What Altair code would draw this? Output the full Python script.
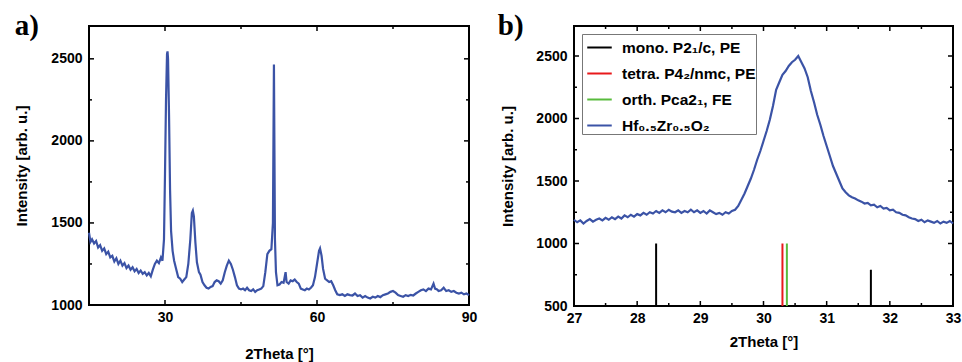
import altair as alt
import pandas as pd

# ---------------- Panel a data (2Theta, intensity) ----------------
a_x = [15.0, 15.3, 15.6, 16.0, 16.4, 16.8, 17.2, 17.6, 18.0, 18.4, 18.8, 19.2, 19.6, 20.0,
       20.4, 20.8, 21.2, 21.6, 22.0, 22.4, 22.8, 23.2, 23.6, 24.0, 24.4, 24.8, 25.2, 25.6,
       26.0, 26.4, 26.8, 27.2, 27.6, 28.0, 28.4, 28.8, 29.2, 29.5, 29.8, 30.0, 30.2, 30.4,
       30.5, 30.6, 30.8, 31.0, 31.2, 31.5, 31.8, 32.2, 32.6, 33.0, 33.4, 33.8, 34.2, 34.6,
       35.0, 35.3, 35.5, 35.7, 36.0, 36.3, 36.7, 37.0, 37.4, 37.8, 38.2, 38.6, 39.0, 39.4,
       39.8, 40.2, 40.6, 41.0, 41.4, 41.8, 42.2, 42.6, 43.0, 43.4, 43.8, 44.2, 44.6, 45.0,
       45.4, 45.8, 46.2, 46.6, 47.0, 47.4, 47.8, 48.2, 48.6, 49.0, 49.4, 49.8, 50.2, 50.6,
       51.0, 51.3, 51.5, 51.7, 51.9, 52.2, 52.6, 53.0, 53.4, 53.8, 54.0, 54.4, 54.8, 55.2,
       55.6, 56.0, 56.4, 56.8, 57.2, 57.6, 58.0, 58.4, 58.8, 59.2, 59.6, 60.0, 60.4, 60.6,
       60.9, 61.2, 61.6, 62.0, 62.4, 62.8, 63.2, 63.6, 64.0, 64.5, 65.0, 65.5, 66.0, 66.5,
       67.0, 67.5, 68.0, 68.5, 69.0, 69.5, 70.0, 70.5, 71.0, 71.5, 72.0, 72.5, 73.0, 73.5,
       74.0, 74.5, 75.0, 75.5, 76.0, 76.5, 77.0, 77.5, 78.0, 78.5, 79.0, 79.5, 80.0, 80.5,
       81.0, 81.5, 82.0, 82.5, 83.0, 83.3, 83.7, 84.0, 84.5, 85.0, 85.5, 86.0, 86.5, 87.0,
       87.5, 88.0, 88.5, 89.0, 89.5, 90.0]
a_y = [1440, 1385, 1400, 1375, 1390, 1350, 1365, 1330, 1345, 1310, 1325, 1290, 1300, 1265,
       1285, 1250, 1270, 1240, 1255, 1225, 1240, 1215, 1230, 1205, 1220, 1195, 1210, 1190,
       1200, 1180, 1195, 1175, 1215, 1250, 1270, 1255, 1290, 1270, 1400, 1800, 2250, 2530,
       2545, 2500, 2150, 1700, 1450, 1330, 1270, 1220, 1170, 1160, 1140, 1155, 1170, 1250,
       1400, 1560, 1575, 1540, 1380, 1260, 1200, 1185, 1140, 1120, 1105, 1100, 1110, 1115,
       1140, 1150, 1145, 1130, 1150, 1200, 1240, 1270, 1250, 1215, 1170, 1120, 1100, 1095,
       1100, 1090, 1105, 1090, 1085, 1095, 1080, 1090, 1095, 1100, 1115, 1200, 1310, 1330,
       1340, 1500, 2465, 1400, 1200, 1120, 1125, 1140, 1135, 1200, 1140, 1130, 1150, 1145,
       1155, 1140, 1130, 1100, 1095, 1090, 1100, 1095, 1105, 1120, 1170, 1250, 1330, 1345,
       1300, 1220, 1160, 1150, 1140, 1145, 1120, 1090, 1065, 1060, 1065, 1055, 1065, 1060,
       1058, 1070, 1055, 1060, 1045, 1055, 1045, 1040, 1050, 1045, 1055, 1048, 1060, 1065,
       1070, 1080, 1085, 1075, 1060, 1055, 1050, 1060, 1055, 1062, 1058, 1070, 1080, 1090,
       1095, 1085, 1100, 1095, 1130, 1100, 1095, 1085, 1090, 1105, 1085, 1090, 1080, 1085,
       1075, 1070, 1075, 1065, 1070, 1060]

# ---------------- Panel b data ----------------
b_x = [27.00, 27.05, 27.10, 27.15, 27.20, 27.25, 27.30, 27.35, 27.40, 27.45, 27.50, 27.55,
       27.60, 27.65, 27.70, 27.75, 27.80, 27.85, 27.90, 27.95, 28.00, 28.05, 28.10, 28.15,
       28.20, 28.25, 28.30, 28.35, 28.40, 28.45, 28.50, 28.55, 28.60, 28.65, 28.70, 28.75,
       28.80, 28.85, 28.90, 28.95, 29.00, 29.05, 29.10, 29.15, 29.20, 29.25, 29.30, 29.35,
       29.40, 29.45, 29.50, 29.55, 29.60, 29.65, 29.70, 29.75, 29.80, 29.85, 29.90, 29.95,
       30.00, 30.05, 30.10, 30.15, 30.20, 30.25, 30.30, 30.35, 30.40, 30.45, 30.50, 30.55,
       30.60, 30.65, 30.70, 30.75, 30.80, 30.85, 30.90, 30.95, 31.00, 31.05, 31.10, 31.15,
       31.20, 31.25, 31.30, 31.35, 31.40, 31.45, 31.50, 31.55, 31.60, 31.65, 31.70, 31.75,
       31.80, 31.85, 31.90, 31.95, 32.00, 32.05, 32.10, 32.15, 32.20, 32.25, 32.30, 32.35,
       32.40, 32.45, 32.50, 32.55, 32.60, 32.65, 32.70, 32.75, 32.80, 32.85, 32.90, 32.95,
       33.00]
b_y = [1190, 1170, 1185, 1160, 1180, 1195, 1175, 1190, 1200, 1185, 1205, 1190,
       1210, 1195, 1215, 1200, 1225, 1210, 1230, 1215, 1235, 1225, 1245, 1230,
       1250, 1240, 1260, 1245, 1265, 1250, 1270, 1255, 1250, 1265, 1245, 1260,
       1250, 1270, 1250, 1265, 1245, 1260, 1240, 1265, 1250, 1235, 1245, 1230,
       1250, 1240, 1260, 1270, 1300, 1350, 1400, 1460, 1520, 1590, 1670, 1740,
       1820, 1900, 1990, 2100, 2230, 2290, 2350, 2380, 2420, 2450, 2470, 2500,
       2450, 2400, 2330, 2220, 2130, 2030, 1950, 1860, 1780, 1700, 1620, 1560,
       1500, 1440, 1410, 1385, 1370, 1360, 1345, 1335, 1320, 1325, 1305, 1310,
       1290, 1300, 1280, 1285, 1265, 1270, 1250, 1245, 1230, 1225, 1210, 1200,
       1195, 1180, 1190, 1170, 1185, 1175, 1165, 1180, 1160, 1175, 1165, 1180,
       1160]

# reference reflections (position, height, phase)
ref_pos = [28.30, 31.70, 30.30, 30.37]
ref_height = [1000, 790, 1000, 1000]
series_names = ["mono. P2\u2081/c, PE", "tetra. P4\u2082/nmc, PE",
                "orth. Pca2\u2081, FE", "Hf\u2080.\u2085Zr\u2080.\u2085O\u2082"]
ref_series = [series_names[0], series_names[0], series_names[1], series_names[2]]
series_colors = ["#000000", "#e8191b", "#58bb3c", "#3b53a6"]

# axis ticks
a_xmajor = [30, 60, 90]
a_xminor = [45, 75]
a_ymajor = [1000, 1500, 2000, 2500]
a_yminor = [1250, 1750, 2250]
b_xmajor = [27, 28, 29, 30, 31, 32, 33]
b_xminor = [27.5, 28.5, 29.5, 30.5, 31.5, 32.5]
b_ymajor = [500, 1000, 1500, 2000, 2500]
b_yminor = [750, 1250, 1750, 2250]

FONT = "Liberation Sans"
W, H = 380, 279
WB, HB = 379, 280


def axis_x(values, pad, title_pad):
    return alt.Axis(values=values, ticks=False, domain=False, grid=False,
                    labelFont=FONT, labelFontWeight="bold", labelFontSize=14,
                    labelColor="black", labelPadding=pad, labelAngle=0,
                    labelOverlap=False, labelFlush=False,
                    title="2Theta [°]", titleFont=FONT, titleFontWeight="bold",
                    titleFontSize=15, titleColor="black", titlePadding=title_pad,
                    format="d")


def axis_y(values, title_pad):
    return alt.Axis(values=values, ticks=False, domain=False, grid=False,
                    labelFont=FONT, labelFontWeight="bold", labelFontSize=14,
                    labelColor="black", labelPadding=7,
                    labelOverlap=False, labelFlush=False,
                    title="Intensity [arb. u.]", titleFont=FONT, titleFontWeight="bold",
                    titleFontSize=15, titleColor="black", titlePadding=title_pad,
                    format="d")


def tick_layers(xmaj, xmin, ymaj, ymin, xscale, yscale, xaxis, yaxis, w, h):
    layers = []
    for vals, ln in ((xmaj, 5), (xmin, 3)):
        df = pd.DataFrame({"x": vals})
        base = alt.Chart(df).mark_rule(color="black", strokeWidth=1.5)
        layers.append(base.encode(x=alt.X("x:Q", scale=xscale, axis=xaxis),
                                  y=alt.value(h), y2=alt.value(h - ln)))
        layers.append(base.encode(x=alt.X("x:Q", scale=xscale, axis=xaxis),
                                  y=alt.value(0), y2=alt.value(ln)))
    for vals, ln in ((ymaj, 5), (ymin, 3)):
        df = pd.DataFrame({"y": vals})
        base = alt.Chart(df).mark_rule(color="black", strokeWidth=1.5)
        layers.append(base.encode(y=alt.Y("y:Q", scale=yscale, axis=yaxis),
                                  x=alt.value(0), x2=alt.value(ln)))
        layers.append(base.encode(y=alt.Y("y:Q", scale=yscale, axis=yaxis),
                                  x=alt.value(w), x2=alt.value(w - ln)))
    return layers


# ---------------- Panel a ----------------
xa = alt.Scale(domain=[15, 90], nice=False, zero=False)
ya = alt.Scale(domain=[1000, 2700], nice=False, zero=False)
xa_axis = axis_x(a_xmajor, 5, 22)
ya_axis = axis_y(a_ymajor, 21)
dfa = pd.DataFrame({"x": a_x, "y": a_y})
line_a = alt.Chart(dfa).mark_line(color="#3b53a6", strokeWidth=2.2).encode(
    x=alt.X("x:Q", scale=xa, axis=xa_axis),
    y=alt.Y("y:Q", scale=ya, axis=ya_axis),
)
panel_a = alt.layer(line_a, *tick_layers(a_xmajor, a_xminor, a_ymajor, a_yminor, xa, ya,
                                         xa_axis, ya_axis, W, H)).properties(
    width=W, height=H,
    title=alt.TitleParams("a)", anchor="start", frame="bounds", font="Liberation Serif",
                          fontSize=29, fontWeight="bold", color="black", offset=0, dy=16, dx=0),
)

# ---------------- Panel b ----------------
xb = alt.Scale(domain=[27, 33], nice=False, zero=False)
yb = alt.Scale(domain=[500, 2740], nice=False, zero=False)
xb_axis = axis_x(b_xmajor, 5, 9)
yb_axis = axis_y(b_ymajor, 20)
color_scale = alt.Scale(domain=series_names, range=series_colors)
legend = alt.Legend(title=None, orient="top-left", offset=8, symbolType="stroke",
                    symbolSize=600, symbolStrokeWidth=2, symbolOffset=4, labelFont=FONT,
                    labelFontWeight="bold", labelFontSize=15.5, labelColor="black",
                    labelLimit=300, labelOffset=9, rowPadding=4, padding=0,
                    strokeColor="#777777", fillColor="white", cornerRadius=0)

dfb = pd.DataFrame({"x": b_x, "y": b_y, "s": [series_names[3]] * len(b_x)})
dfr = pd.DataFrame({"x": ref_pos, "y": [500] * 4, "y2": ref_height, "s": ref_series})

sticks = alt.Chart(dfr).mark_rule(strokeWidth=2).encode(
    x=alt.X("x:Q", scale=xb, axis=xb_axis),
    y=alt.Y("y:Q", scale=yb, axis=yb_axis),
    y2="y2:Q",
    color=alt.Color("s:N", scale=color_scale, legend=legend),
)
line_b = alt.Chart(dfb).mark_line(strokeWidth=2.2).encode(
    x=alt.X("x:Q", scale=xb, axis=xb_axis),
    y=alt.Y("y:Q", scale=yb, axis=yb_axis),
    color=alt.Color("s:N", scale=color_scale, legend=legend),
)
panel_b = alt.layer(sticks, line_b, *tick_layers(b_xmajor, b_xminor, b_ymajor, b_yminor, xb, yb,
                                                 xb_axis, yb_axis, WB, HB)).properties(
    width=WB, height=HB,
    title=alt.TitleParams("b)", anchor="start", frame="bounds", font="Liberation Serif",
                          fontSize=29, fontWeight="bold", color="black", offset=0, dy=16, dx=-3),
)

chart = alt.hconcat(panel_a, panel_b, spacing=105, bounds="flush").properties(
    padding={"left": 13, "top": 11, "right": 0, "bottom": 0},
    background="white",
).resolve_scale(color="independent").resolve_legend(color="independent").configure_view(
    stroke="black", strokeWidth=2)

chart.save("out.html", embed_options={"renderer": "svg", "actions": False})
